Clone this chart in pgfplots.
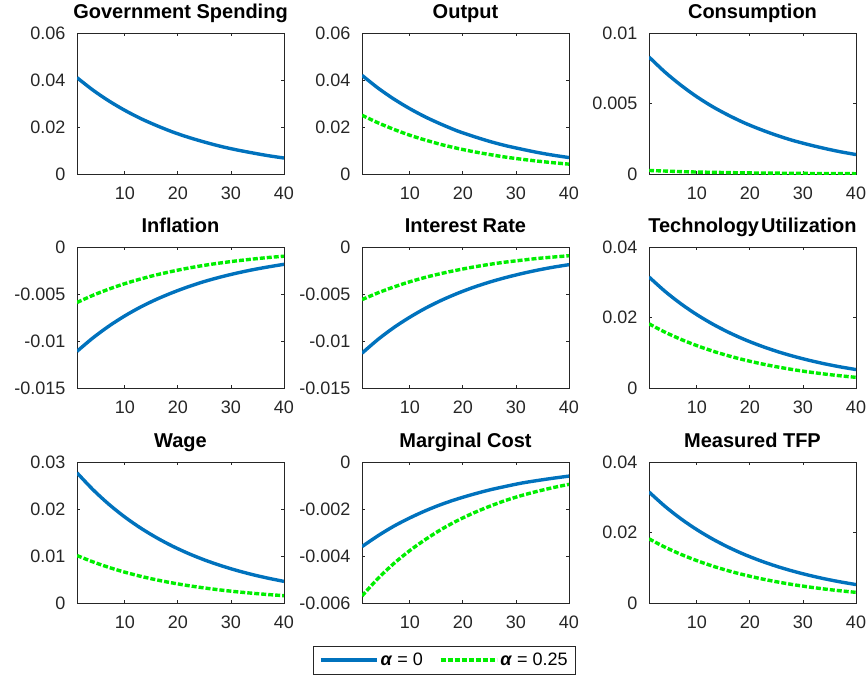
\documentclass[border=0pt]{standalone}
\usepackage{pgfplots}
\usepackage{pgfplotstable}
\usepackage{fontspec}
\setmainfont{Liberation Sans}
\pgfplotsset{compat=1.18}

\definecolor{mblue}{RGB}{0,114,189}
\definecolor{mgreen}{RGB}{0,238,0}
\definecolor{axgray}{RGB}{38,38,38}

\newcommand\tickfont{\fontsize{18pt}{20pt}\selectfont}
\newcommand\titlefont{\bfseries\fontsize{20pt}{24pt}\selectfont}

% impulse responses, alpha = 0 (b) and alpha = 0.25 (g)
\pgfplotstableread{
t  gov    yb     yg     cb      cg      pib      pig      rb       rg       ab      ag      wb      wg      mcb      mcg
1  0.0410 0.0420 0.0250 0.00830 0.00025 -0.01110 -0.00590 -0.01130 -0.00560 0.03150 0.01820 0.02770 0.01010 -0.00360 -0.00570
4  0.0357 0.0366 0.0218 0.00723 0.00021 -0.00967 -0.00514 -0.00984 -0.00488 0.02744 0.01585 0.02413 0.00875 -0.00314 -0.00496
7  0.0311 0.0319 0.0190 0.00630 0.00017 -0.00842 -0.00448 -0.00857 -0.00425 0.02390 0.01381 0.02101 0.00758 -0.00273 -0.00432
10 0.0271 0.0278 0.0165 0.00548 0.00014 -0.00733 -0.00390 -0.00747 -0.00370 0.02082 0.01203 0.01830 0.00656 -0.00238 -0.00377
13 0.0236 0.0242 0.0144 0.00477 0.00012 -0.00638 -0.00340 -0.00650 -0.00322 0.01813 0.01047 0.01594 0.00568 -0.00207 -0.00329
16 0.0206 0.0211 0.0125 0.00416 0.00010 -0.00556 -0.00296 -0.00566 -0.00281 0.01579 0.00912 0.01389 0.00492 -0.00180 -0.00286
19 0.0179 0.0183 0.0109 0.00362 0.00008 -0.00485 -0.00258 -0.00493 -0.00245 0.01375 0.00795 0.01209 0.00426 -0.00157 -0.00249
22 0.0156 0.0160 0.0095 0.00316 0.00007 -0.00422 -0.00224 -0.00429 -0.00213 0.01198 0.00692 0.01053 0.00369 -0.00137 -0.00217
25 0.0136 0.0139 0.0083 0.00275 0.00006 -0.00367 -0.00195 -0.00374 -0.00185 0.01043 0.00603 0.00917 0.00320 -0.00119 -0.00189
28 0.0118 0.0121 0.0072 0.00239 0.00005 -0.00320 -0.00170 -0.00326 -0.00161 0.00909 0.00525 0.00799 0.00277 -0.00104 -0.00164
31 0.0103 0.0106 0.0063 0.00209 0.00004 -0.00279 -0.00148 -0.00284 -0.00141 0.00792 0.00457 0.00696 0.00240 -0.00090 -0.00143
34 0.0090 0.0092 0.0055 0.00182 0.00003 -0.00243 -0.00129 -0.00247 -0.00122 0.00689 0.00398 0.00606 0.00208 -0.00079 -0.00125
37 0.0078 0.0080 0.0048 0.00158 0.00003 -0.00212 -0.00112 -0.00215 -0.00107 0.00600 0.00347 0.00528 0.00180 -0.00069 -0.00109
40 0.0068 0.0070 0.0042 0.00138 0.00002 -0.00184 -0.00098 -0.00188 -0.00093 0.00523 0.00302 0.00460 0.00156 -0.00060 -0.00095
}\irf

\pgfplotsset{
  irf/.style={
    scale only axis, width=207pt, height=141pt, anchor=north west,
    xmin=1, xmax=40, xtick={10,20,30,40}, xticklabels={10,20,30,40},
    scaled y ticks=false, minor tick num=0,
    tick align=inside, major tick length=3pt,
    axis line style={draw=axgray, line width=0.8pt},
    tick style={draw=axgray, line width=0.8pt},
    ticklabel style={font=\tickfont, text=axgray},
    yticklabel style={xshift=-8pt},
    xticklabel style={yshift=-9pt},
    title style={at={(0.5,1)}, anchor=base, yshift=9pt, font=\titlefont},
  },
  bl/.style={mblue, line width=3.4pt, smooth, no marks},
  gr/.style={mgreen, line width=3.4pt, dash pattern=on 5pt off 2pt, smooth, no marks},
}

\begin{document}
\begin{tikzpicture}
\path[use as bounding box] (0pt,0pt) rectangle (868pt,-677pt);

% row 1
\begin{axis}[irf, at={(77pt,-33pt)}, title={Government Spending},
  ymin=0, ymax=0.06, ytick={0,0.02,0.04,0.06}, yticklabels={0,0.02,0.04,0.06}]
\addplot[bl] table[x=t,y=gov] {\irf};
\end{axis}
\begin{axis}[irf, at={(362pt,-33pt)}, title={Output},
  ymin=0, ymax=0.06, ytick={0,0.02,0.04,0.06}, yticklabels={0,0.02,0.04,0.06}]
\addplot[bl] table[x=t,y=yb] {\irf};
\addplot[gr] table[x=t,y=yg] {\irf};
\end{axis}
\begin{axis}[irf, at={(649pt,-33pt)}, title={Consumption},
  ymin=0, ymax=0.01, ytick={0,0.005,0.01}, yticklabels={0,0.005,0.01}]
\addplot[bl] table[x=t,y=cb] {\irf};
\addplot[gr] table[x=t,y=cg] {\irf};
\end{axis}

% row 2
\begin{axis}[irf, at={(77pt,-247pt)}, title={Inflation},
  ymin=-0.015, ymax=0, ytick={-0.015,-0.01,-0.005,0}, yticklabels={-0.015,-0.01,-0.005,0}]
\addplot[bl] table[x=t,y=pib] {\irf};
\addplot[gr] table[x=t,y=pig] {\irf};
\end{axis}
\begin{axis}[irf, at={(362pt,-247pt)}, title={Interest Rate},
  ymin=-0.015, ymax=0, ytick={-0.015,-0.01,-0.005,0}, yticklabels={-0.015,-0.01,-0.005,0}]
\addplot[bl] table[x=t,y=rb] {\irf};
\addplot[gr] table[x=t,y=rg] {\irf};
\end{axis}
\begin{axis}[irf, at={(649pt,-247pt)}, title={Technology\hspace{0.1em}Utilization},
  ymin=0, ymax=0.04, ytick={0,0.02,0.04}, yticklabels={0,0.02,0.04}]
\addplot[bl] table[x=t,y=ab] {\irf};
\addplot[gr] table[x=t,y=ag] {\irf};
\end{axis}

% row 3
\begin{axis}[irf, at={(77pt,-462pt)}, title={Wage},
  ymin=0, ymax=0.03, ytick={0,0.01,0.02,0.03}, yticklabels={0,0.01,0.02,0.03}]
\addplot[bl] table[x=t,y=wb] {\irf};
\addplot[gr] table[x=t,y=wg] {\irf};
\end{axis}
\begin{axis}[irf, at={(362pt,-462pt)}, title={Marginal Cost},
  ymin=-0.006, ymax=0, ytick={-0.006,-0.004,-0.002,0}, yticklabels={-0.006,-0.004,-0.002,0},
  legend columns=2,
  legend image code/.code={\draw[#1] (0pt,0pt) -- (56pt,0pt);},
  legend style={at={(0.3986,-0.303)}, anchor=north, draw=axgray, line width=0.8pt,
    font=\tickfont, inner xsep=6pt, inner ysep=5pt,
    /tikz/every even column/.append style={column sep=14pt}}]
\addplot[bl] table[x=t,y=mcb] {\irf};
\addlegendentry{\textbf{\textit{α}} = 0}
\addplot[gr] table[x=t,y=mcg] {\irf};
\addlegendentry{\textbf{\textit{α}} = 0.25}
\end{axis}
\begin{axis}[irf, at={(649pt,-462pt)}, title={Measured TFP},
  ymin=0, ymax=0.04, ytick={0,0.02,0.04}, yticklabels={0,0.02,0.04}]
\addplot[bl] table[x=t,y=ab] {\irf};
\addplot[gr] table[x=t,y=ag] {\irf};
\end{axis}
\end{tikzpicture}
\end{document}
